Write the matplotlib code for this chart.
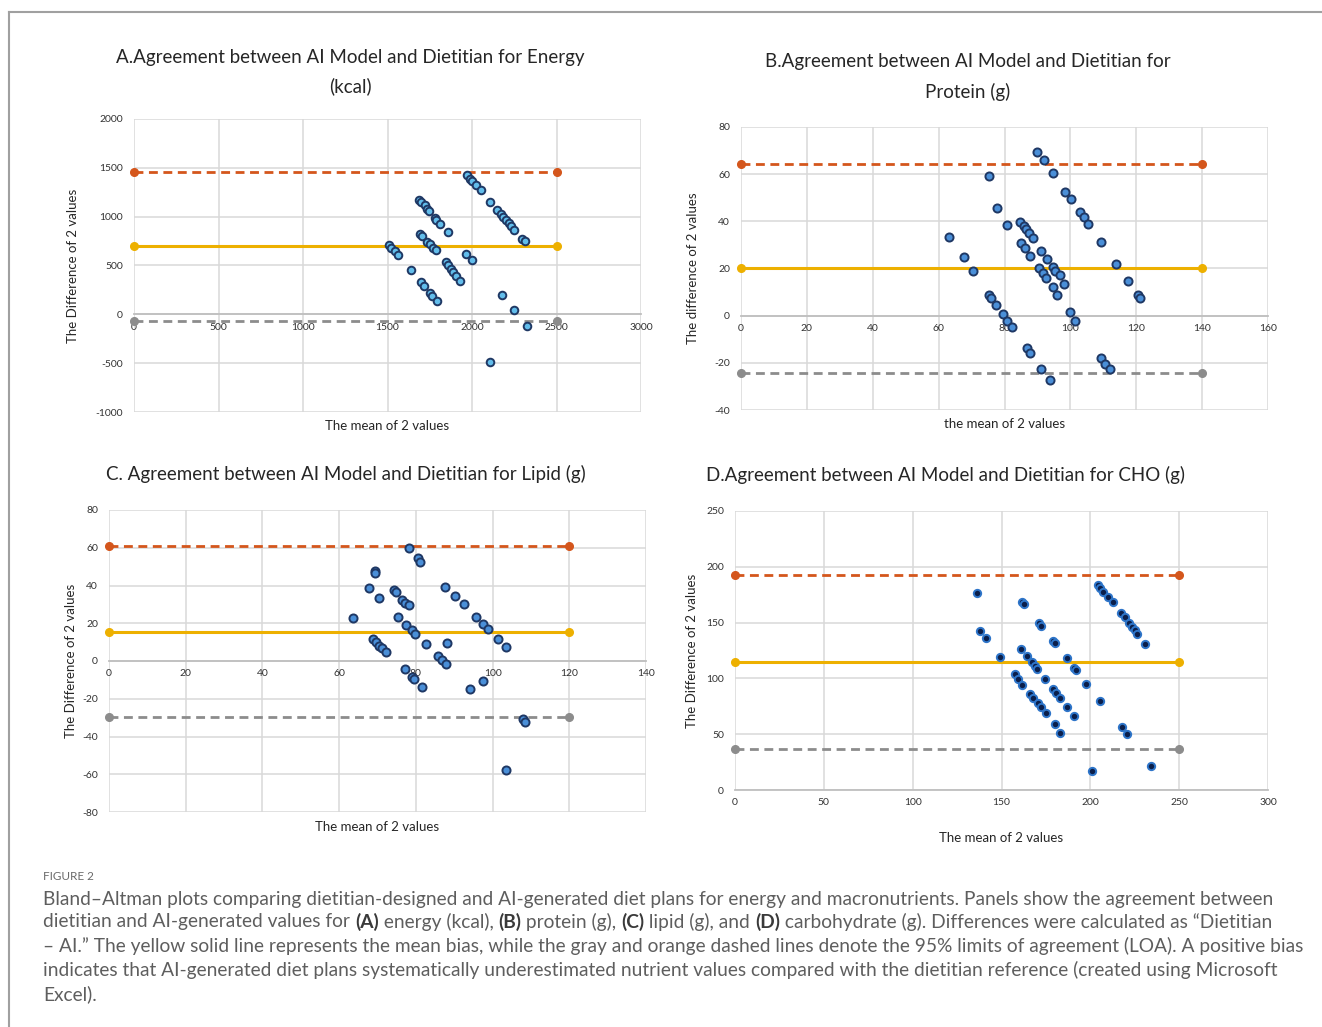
import matplotlib
matplotlib.use("Agg")
import matplotlib.pyplot as plt
import numpy as np

plt.rcParams['axes.unicode_minus'] = False
plt.rcParams['font.family'] = ['Lato', 'DejaVu Sans']

W, H = 1322, 1027

# ---------------- DATA ----------------
# Panel A: Energy (kcal)
energy_mean = [1509, 1523, 1543, 1562, 1641,
               1686, 1700, 1720, 1734, 1745, 1779, 1789, 1813, 1858,
               1690, 1704, 1734, 1749, 1769, 1785,
               1844, 1858, 1874, 1887, 1907, 1931,
               1700, 1714, 1749, 1765, 1795,
               1966, 2000,
               1972, 1986, 2002, 2021, 2051, 2108, 2147, 2169, 2183, 2203, 2218, 2232, 2246, 2297, 2311,
               2179, 2246, 2327, 2104]
energy_diff = [713, 683, 648, 611, 457,
               1174, 1150, 1116, 1082, 1057, 990, 962, 921, 842,
               826, 798, 740, 716, 683, 655,
               535, 502, 468, 433, 392, 341,
               331, 290, 222, 188, 136,
               621, 560,
               1423, 1389, 1364, 1320, 1276, 1150, 1071, 1030, 996, 969, 935, 904, 867, 775, 750,
               194, 48, -120, -488]
energy_bias, energy_upper, energy_lower = 700, 1460, -65

# Panel B: Protein (g)
protein_mean = [63.3, 67.6, 70.3, 75.2, 77.7, 80.9,
                75.4, 76.0, 77.5, 79.5, 80.9, 82.2, 86.8, 87.8, 91.2, 93.9,
                84.8, 86.0, 86.6, 87.3, 88.6, 85.0, 86.3, 87.8,
                91.2, 92.9, 94.6, 95.4, 96.7, 98.1,
                90.6, 91.7, 92.5, 94.6, 96.0,
                89.9, 91.9, 94.6, 98.5, 100.2, 102.8, 104.1, 105.5, 109.3, 113.8, 117.4, 120.4, 121.2,
                99.8, 101.5, 109.3, 110.6, 111.9]
protein_diff = [33.2, 24.8, 19.0, 59.3, 45.5, 38.4,
                8.9, 7.5, 4.6, 0.8, -2.4, -4.8, -13.7, -15.8, -22.5, -27.3,
                39.8, 38.0, 36.6, 34.9, 33.1, 30.7, 28.6, 25.5,
                27.6, 24.1, 20.8, 19.1, 17.3, 13.4,
                20.1, 18.0, 15.9, 12.1, 8.9,
                69.4, 65.9, 60.3, 52.5, 49.3, 44.1, 41.7, 38.7, 31.1, 22.0, 14.8, 8.9, 7.5,
                1.4, -2.4, -17.9, -20.3, -22.8]
protein_bias, protein_upper, protein_lower = 20.0, 64.3, -24.3

# Panel C: Lipid (g)
lipid_mean = [63.7, 67.8, 69.3, 69.4, 70.4,
              68.7, 69.6, 70.4, 71.3, 72.3,
              74.3, 74.8, 76.5, 77.1, 78.2,
              75.4, 77.4, 78.9, 79.7,
              78.2, 80.6, 81.2,
              77.1, 79.0, 79.6, 81.7,
              82.6, 85.7, 86.7, 87.8, 88.0,
              87.6, 90.3, 92.5, 95.7, 97.6, 98.9, 101.5, 103.5,
              94.1, 97.6, 108.0, 108.5, 103.5]
lipid_diff = [22.6, 38.5, 47.5, 46.5, 33.5,
              11.6, 9.9, 8.1, 6.7, 4.9,
              37.6, 36.7, 32.3, 30.5, 29.7,
              23.5, 19.1, 16.4, 14.3,
              59.7, 54.4, 52.6,
              -4.2, -8.3, -9.5, -13.9,
              8.8, 2.8, 0.5, -1.8, 9.4,
              39.4, 34.4, 30.0, 23.1, 19.4, 16.8, 11.5, 7.6,
              -15.0, -10.4, -30.9, -32.1, -57.7]
lipid_bias, lipid_upper, lipid_lower = 15.6, 60.8, -29.6

# Panel D: Carbohydrate (g)
cho_mean = [136.3, 137.8, 141.0, 149.4,
            161.8, 162.8, 171.0, 172.1, 179.1, 180.0, 186.6, 190.9, 191.8,
            160.7, 164.1, 167.3, 168.8, 170.1, 174.4,
            157.5, 159.4, 161.3, 165.9, 167.8, 170.6, 172.5, 174.9,
            179.1, 180.9, 183.2, 186.9, 190.7,
            180.0, 183.2, 197.8, 205.3,
            204.4, 205.7, 207.2, 210.0, 212.5, 217.0, 219.4, 221.8, 223.5, 225.0, 226.5, 231.0,
            217.9, 220.9, 200.7, 234.0]
cho_diff = [176.1, 142.7, 135.8, 119.4,
            168.1, 166.3, 149.9, 146.9, 133.7, 131.3, 118.5, 109.0, 107.5,
            126.3, 120.0, 114.3, 111.3, 108.1, 99.4,
            103.9, 99.1, 94.0, 85.7, 82.1, 78.2, 74.6, 68.7,
            90.1, 86.6, 82.1, 74.0, 66.6,
            58.8, 51.3, 94.9, 79.7,
            183.6, 180.6, 177.6, 173.1, 168.7, 158.8, 154.6, 149.8, 146.3, 143.3, 139.4, 130.7,
            56.1, 49.9, 17.0, 21.8]
cho_bias, cho_upper, cho_lower = 114.5, 192.5, 36.5

titles = [["A.Agreement between AI Model and Dietitian for Energy", "(kcal)"],
          ["B.Agreement between AI Model and Dietitian for", "Protein (g)"],
          ["C. Agreement between AI Model and Dietitian for Lipid (g)"],
          ["D.Agreement between AI Model and Dietitian for CHO (g)"]]
xlabels = ["The mean of 2 values", "the mean of 2 values", "The mean of 2 values", "The mean of 2 values"]
ylabels = ["The Difference of 2 values", "The difference of 2 values",
           "The Difference of 2 values", "The Difference of 2 values"]

caption_head = "FIGURE 2"
caption_lines = [
    [("Bland–Altman plots comparing dietitian-designed and AI-generated diet plans for energy and macronutrients. Panels show the agreement between", False)],
    [("dietitian and AI-generated values for ", False), ("(A)", True), (" energy (kcal), ", False), ("(B)", True),
     (" protein (g), ", False), ("(C)", True), (" lipid (g), and ", False), ("(D)", True),
     (" carbohydrate (g). Differences were calculated as “Dietitian", False)],
    [("– AI.” The yellow solid line represents the mean bias, while the gray and orange dashed lines denote the 95% limits of agreement (LOA). A positive bias", False)],
    [("indicates that AI-generated diet plans systematically underestimated nutrient values compared with the dietitian reference (created using Microsoft", False)],
    [("Excel).", False)],
]

# ---------------- STYLE / LAYOUT ----------------
ORANGE = '#D4561C'
YELLOW = '#EDB000'
GRAY = '#8C8C8C'
GRID = '#D9D9D9'

fig = plt.figure(figsize=(W / 100, H / 100), dpi=100)
fig.patch.set_facecolor('white')


def axes_px(l, r, t, b):
    return fig.add_axes([l / W, 1 - b / H, (r - l) / W, (b - t) / H])


panels = [
    dict(box=(134, 641, 119, 412), x=energy_mean, y=energy_diff,
         lims=(energy_bias, energy_upper, energy_lower), xlim=(0, 3000), xstep=500,
         ylim=(-1000, 2000), ystep=500, xend=2500, face='#62BDEB', edge='#1F3864', ms=30,
         title_c=350, title_y=[58, 86], xl_y=426, yl_x=73),
    dict(box=(741, 1268, 127, 410), x=protein_mean, y=protein_diff,
         lims=(protein_bias, protein_upper, protein_lower), xlim=(0, 160), xstep=20,
         ylim=(-40, 80), ystep=20, xend=140, face='#4A8FD8', edge='#1F3864', ms=34,
         title_c=968, title_y=[62, 92], xl_y=424, yl_x=693),
    dict(box=(109, 646, 510, 812), x=lipid_mean, y=lipid_diff,
         lims=(lipid_bias, lipid_upper, lipid_lower), xlim=(0, 140), xstep=20,
         ylim=(-80, 80), ystep=20, xend=120, face='#4A8FD8', edge='#1F3864', ms=34,
         title_c=346, title_y=[474], xl_y=827, yl_x=71),
    dict(box=(735, 1268, 511, 790), x=cho_mean, y=cho_diff,
         lims=(cho_bias, cho_upper, cho_lower), xlim=(0, 300), xstep=50,
         ylim=(0, 250), ystep=50, xend=250, face='#0B1F4B', edge='#2E75C9', ms=28,
         title_c=946, title_y=[475], xl_y=838, yl_x=692),
]

TITLE_SIZE = 13.5
for i, p in enumerate(panels):
    l, r, t, b = p['box']
    ax = axes_px(l, r, t, b)
    ax.set_xlim(*p['xlim'])
    ax.set_ylim(*p['ylim'])
    ax.set_xticks(np.arange(p['xlim'][0], p['xlim'][1] + 1e-9, p['xstep']))
    ax.set_yticks(np.arange(p['ylim'][0], p['ylim'][1] + 1e-9, p['ystep']))
    ax.grid(True, color=GRID, lw=1.1, zorder=0)
    ax.set_axisbelow(True)
    for s in ['top', 'right', 'left']:
        ax.spines[s].set_visible(False)
    ax.spines['bottom'].set_position(('data', 0))
    ax.spines['bottom'].set_color('#BFBFBF')
    ax.spines['bottom'].set_linewidth(1.3)
    ax.tick_params(length=0, labelsize=7.5, labelcolor='#333333')
    ax.tick_params(axis='y', pad=8)
    ax.tick_params(axis='x', pad=6)
    bias, up, lo = p['lims']
    xe = [0, p['xend']]
    ax.plot(xe, [up, up], color=ORANGE, lw=2.0, ls=(0, (3.2, 2.0)), marker='o', ms=5.5,
            clip_on=False, zorder=3)
    ax.plot(xe, [lo, lo], color=GRAY, lw=2.0, ls=(0, (3.2, 2.0)), marker='o', ms=5.5,
            clip_on=False, zorder=3)
    ax.plot(xe, [bias, bias], color=YELLOW, lw=2.2, marker='o', ms=5.5, clip_on=False, zorder=3)
    ax.scatter(p['x'], p['y'], s=p['ms'], facecolor=p['face'], edgecolor=p['edge'],
               linewidth=1.4, zorder=4, clip_on=False)

    # titles
    for j, tl in enumerate(titles[i]):
        fig.text(p['title_c'] / W, 1 - p['title_y'][j] / H, tl, ha='center', va='center',
                 fontsize=TITLE_SIZE, color='#262626')
    fig.text(((l + r) / 2) / W, 1 - p['xl_y'] / H, xlabels[i], ha='center', va='center',
             fontsize=9.5, color='#262626')
    fig.text(p['yl_x'] / W, 1 - ((t + b) / 2) / H, ylabels[i], ha='center', va='center',
             rotation=90, fontsize=9.5, color='#262626')

# frame lines
fig.add_artist(plt.Line2D([9 / W, 9 / W], [0, 1 - 12 / H], color='#A0A0A0', lw=1.5))
fig.add_artist(plt.Line2D([9 / W, 1], [1 - 12 / H, 1 - 12 / H], color='#A0A0A0', lw=1.5))

# caption
CAP_COLOR = '#5E5E5E'
fig.text(43 / W, 1 - 876 / H, caption_head, ha='left', va='center', fontsize=8.5, color='#6A6A6A')

renderer = fig.canvas.get_renderer()
cap_size = 12.0
tmp = fig.text(0, 0, caption_lines[0][0][0], fontsize=cap_size)
wpx = tmp.get_window_extent(renderer).width
tmp.remove()
cap_size = cap_size * 1227.0 / wpx

line_y = [899, 922, 946, 970, 994]
for segs, yy in zip(caption_lines, line_y):
    x = 43.0
    for txt, bold in segs:
        tt = fig.text(x / W, 1 - yy / H, txt, ha='left', va='center', fontsize=cap_size,
                      color=('#3A3A3A' if bold else CAP_COLOR),
                      fontweight=('bold' if bold else 'normal'))
        w, h, d = renderer.get_text_width_height_descent(txt, tt.get_fontproperties(), ismath=False)
        x += w

fig.savefig('out.png', dpi=100)
